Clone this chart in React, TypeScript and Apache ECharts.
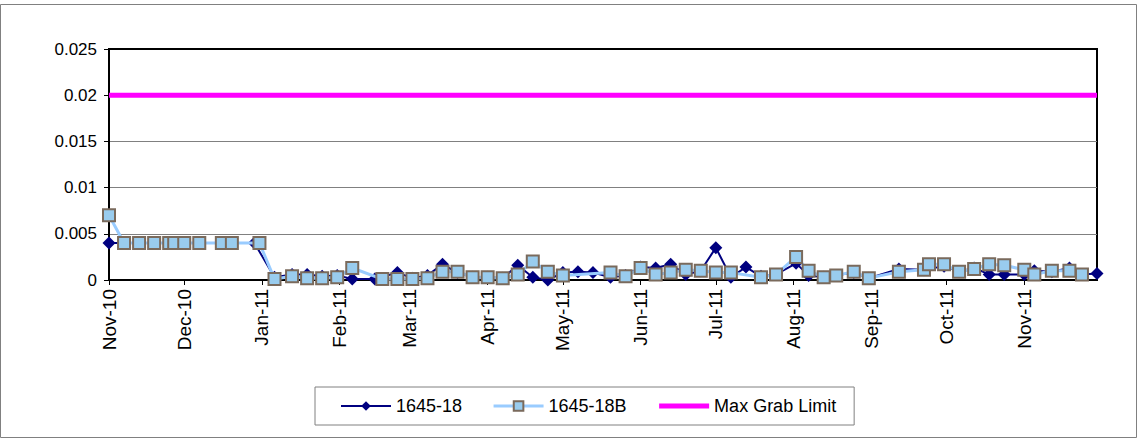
import React, { useEffect, useRef } from "react";
import * as echarts from "echarts";

const dates18 = [
  "2010-11-01", "2010-11-07", "2010-11-13", "2010-11-19", "2010-11-25", "2010-11-27",
  "2010-12-01", "2010-12-07", "2010-12-16", "2010-12-20", "2010-12-29",
  "2011-01-06", "2011-01-13", "2011-01-19", "2011-01-25", "2011-01-31",
  "2011-02-06", "2011-02-15", "2011-02-24", "2011-03-02", "2011-03-08", "2011-03-14",
  "2011-03-20", "2011-03-26", "2011-04-01", "2011-04-07", "2011-04-13", "2011-04-19",
  "2011-04-25", "2011-05-01", "2011-05-07", "2011-05-13", "2011-05-20", "2011-05-26",
  "2011-06-01", "2011-06-07", "2011-06-13", "2011-06-19", "2011-06-25", "2011-07-01",
  "2011-07-07", "2011-07-13", "2011-07-19", "2011-07-25", "2011-08-02", "2011-08-07",
  "2011-08-13", "2011-08-18", "2011-08-25", "2011-08-31", "2011-09-12", "2011-09-22",
  "2011-09-30", "2011-10-06", "2011-10-12", "2011-10-18", "2011-10-24", "2011-11-01",
  "2011-11-05", "2011-11-12", "2011-11-19", "2011-11-24", "2011-11-30",
];
const values18 = [
  0.004, 0.004, 0.004, 0.004, 0.004, 0.004,
  0.004, 0.004, 0.004, 0.004, 0.004,
  0.0003, 0.0006, 0.0006, 0.0004, 0.0005,
  0.0001, 0.0001, 0.0008, 0.0002, 0.0005, 0.0017,
  0.0008, 0.0003, 0.0003, 0.0002, 0.0016, 0.0003,
  0.0, 0.0008, 0.0009, 0.0008, 0.0003, 0.0005,
  0.0014, 0.0013, 0.0017, 0.0006, 0.001, 0.0035,
  0.0003, 0.0014, 0.0004, 0.0006, 0.0018, 0.0005,
  0.0003, 0.0005, 0.0008, 0.0002, 0.0012, 0.0011,
  0.0015, 0.0009, 0.0013, 0.0006, 0.0006, 0.0006,
  0.001, 0.0009, 0.0013, 0.0006, 0.0007,
];

const dates18B = [
  "2010-11-01", "2010-11-07", "2010-11-13", "2010-11-19", "2010-11-25", "2010-11-27",
  "2010-12-01", "2010-12-07", "2010-12-16", "2010-12-20", "2010-12-31",
  "2011-01-06", "2011-01-13", "2011-01-19", "2011-01-25", "2011-01-31",
  "2011-02-06", "2011-02-18", "2011-02-24", "2011-03-02", "2011-03-08", "2011-03-14",
  "2011-03-20", "2011-03-26", "2011-04-01", "2011-04-07", "2011-04-13", "2011-04-19",
  "2011-04-25", "2011-05-01", "2011-05-20", "2011-05-26", "2011-06-01", "2011-06-07",
  "2011-06-13", "2011-06-19", "2011-06-25", "2011-07-01", "2011-07-07", "2011-07-19",
  "2011-07-25", "2011-08-02", "2011-08-07", "2011-08-13", "2011-08-18", "2011-08-25",
  "2011-08-31", "2011-09-12", "2011-09-22", "2011-09-24", "2011-09-30", "2011-10-06",
  "2011-10-12", "2011-10-18", "2011-10-24", "2011-11-01", "2011-11-05", "2011-11-12",
  "2011-11-19", "2011-11-24",
];
const values18B = [
  0.007, 0.004, 0.004, 0.004, 0.004, 0.004,
  0.004, 0.004, 0.004, 0.004, 0.004,
  0.0001, 0.0004, 0.0002, 0.0002, 0.0003,
  0.0013, 0.0001, 0.0001, 0.0001, 0.0002, 0.0009,
  0.0009, 0.0003, 0.0003, 0.0002, 0.0006, 0.002,
  0.0009, 0.0005, 0.0008, 0.0004, 0.0013, 0.0006,
  0.0008, 0.0011, 0.001, 0.0008, 0.0008, 0.0003,
  0.0006, 0.0025, 0.001, 0.0003, 0.0005, 0.0009,
  0.0002, 0.0009, 0.0011, 0.0017, 0.0017, 0.0009,
  0.0012, 0.0017, 0.0016, 0.0011, 0.0006, 0.001,
  0.001, 0.0006,
];

const limitDates = ["2010-11-01", "2011-11-30"];
const limitValues = [0.02, 0.02];

const monthTickDates = [
  "2010-11-01", "2010-12-01", "2011-01-01", "2011-02-01", "2011-03-01", "2011-04-01", "2011-05-01",
  "2011-06-01", "2011-07-01", "2011-08-01", "2011-09-01", "2011-10-01", "2011-11-01",
];
const monthNames = ["Jan", "Feb", "Mar", "Apr", "May", "Jun", "Jul", "Aug", "Sep", "Oct", "Nov", "Dec"];

function ts(s: string): number {
  const [y, m, d] = s.split("-").map(Number);
  return Date.UTC(y, m - 1, d);
}

export default function App() {
  const ref = useRef<HTMLDivElement>(null);
  useEffect(() => {
    document.body.style.margin = "0";
    if (!ref.current) return;
    const chart = echarts.init(ref.current, null, { renderer: "svg" });
    const monthTicks = monthTickDates.map(ts);
    const font = "'Liberation Sans', Arial, sans-serif";
    chart.setOption({
      animation: false,
      textStyle: { fontFamily: font, color: "#000" },
      graphic: [
        {
          type: "rect",
          shape: { x: 0.5, y: 4.5, width: 1136, height: 433 },
          style: { fill: "none", stroke: "#808080", lineWidth: 1 },
          silent: true,
        },
      ],
      grid: {
        left: 109,
        right: 41,
        top: 49,
        bottom: 163,
        show: true,
        borderColor: "#000",
        borderWidth: 2,
        containLabel: false,
      },
      legend: {
        left: 315,
        top: 387,
        padding: [10, 18, 10, 25],
        borderColor: "#808080",
        borderWidth: 1,
        itemGap: 30,
        itemWidth: 50,
        itemHeight: 12,
        textStyle: { fontFamily: font, fontSize: 18, color: "#000" },
        data: [
          { name: "1645-18", lineStyle: { width: 2 } },
          { name: "1645-18B", lineStyle: { width: 3 } },
          { name: "Max Grab Limit", lineStyle: { width: 5 } },
        ],
      },
      xAxis: {
        type: "value",
        min: ts("2010-11-01"),
        max: ts("2011-11-30"),
        axisLine: { lineStyle: { color: "#000", width: 2 } },
        axisTick: { show: true, customValues: monthTicks, length: 5, lineStyle: { color: "#000" } },
        axisLabel: {
          customValues: monthTicks,
          rotate: 90,
          margin: 9,
          fontSize: 19,
          fontFamily: font,
          color: "#000",
          formatter: (v: number) => {
            const d = new Date(v);
            return monthNames[d.getUTCMonth()] + "-" + String(d.getUTCFullYear()).slice(2);
          },
        },
        splitLine: { show: false },
      },
      yAxis: {
        type: "value",
        min: 0,
        max: 0.025,
        interval: 0.005,
        axisLine: { show: true, lineStyle: { color: "#000", width: 2 } },
        axisTick: { show: true, length: 5, lineStyle: { color: "#000" } },
        axisLabel: { fontSize: 17, fontFamily: font, color: "#000", margin: 12 },
        splitLine: { show: true, showMaxLine: false, lineStyle: { color: "#808080", width: 1 } },
      },
      series: [
        {
          name: "1645-18",
          type: "line",
          data: dates18.map((d, i) => [ts(d), values18[i]]),
          symbol: "diamond",
          symbolSize: 13,
          lineStyle: { color: "#000080", width: 2 },
          itemStyle: { color: "#000080" },
          z: 2,
        },
        {
          name: "1645-18B",
          type: "line",
          data: dates18B.map((d, i) => [ts(d), values18B[i]]),
          symbol: "rect",
          symbolSize: 12,
          lineStyle: { color: "#99CCFF", width: 3 },
          itemStyle: { color: "#99CCEE", borderColor: "#7A6A5C", borderWidth: 2 },
          z: 3,
        },
        {
          name: "Max Grab Limit",
          type: "line",
          data: limitDates.map((d, i) => [ts(d), limitValues[i]]),
          symbol: "none",
          lineStyle: { color: "#FF00FF", width: 5 },
          itemStyle: { color: "rgba(0,0,0,0)", borderWidth: 0 },
          z: 4,
        },
      ],
    });
    return () => chart.dispose();
  }, []);
  return <div ref={ref} style={{ width: 1138, height: 443 }} />;
}
